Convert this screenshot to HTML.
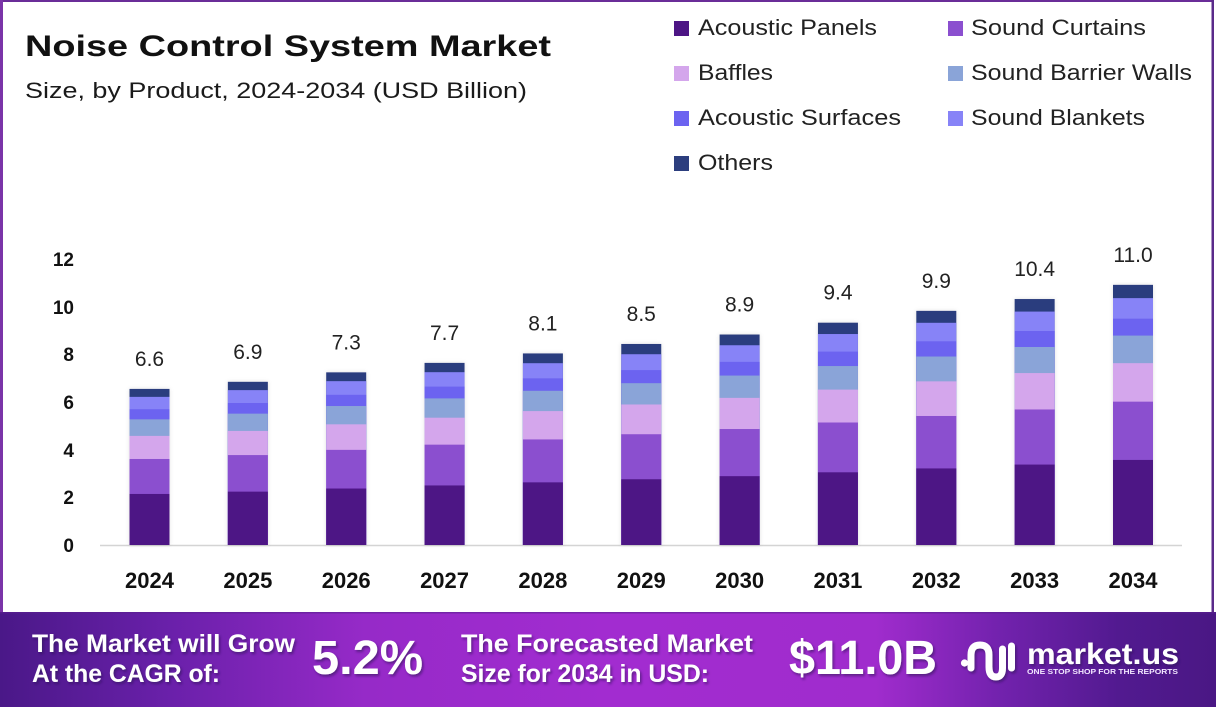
<!DOCTYPE html>
<html>
<head>
<meta charset="utf-8">
<style>
  html,body{margin:0;padding:0;background:#fff;}
  svg{display:block;}
  text{font-family:"Liberation Sans",Arial,sans-serif;}
</style>
</head>
<body>
<svg width="1216" height="711" viewBox="0 0 1216 711" xmlns="http://www.w3.org/2000/svg">
  <defs>
    <linearGradient id="band" x1="0" y1="0" x2="1" y2="0">
      <stop offset="0" stop-color="#4a1888"/>
      <stop offset="0.14" stop-color="#6a20aa"/>
      <stop offset="0.3" stop-color="#962ac8"/>
      <stop offset="0.5" stop-color="#a22cd0"/>
      <stop offset="0.72" stop-color="#a02ccd"/>
      <stop offset="0.82" stop-color="#7322ae"/>
      <stop offset="0.92" stop-color="#521a90"/>
      <stop offset="1" stop-color="#4a1784"/>
    </linearGradient>
    <filter id="ts" x="-10%" y="-10%" width="130%" height="140%">
      <feDropShadow dx="1.5" dy="2" stdDeviation="1.2" flood-color="#2a0a50" flood-opacity="0.55"/>
    </filter>
    <filter id="bs" x="-30%" y="-10%" width="160%" height="120%">
      <feDropShadow dx="0" dy="0" stdDeviation="2" flood-color="#000" flood-opacity="0.12"/>
    </filter>
  </defs>

  <rect x="0" y="0" width="1216" height="711" fill="#ffffff"/>

  <!-- frame -->
  <rect x="0" y="0" width="1214" height="2" fill="#6a2d98"/>
  <rect x="0" y="0" width="3" height="612" fill="#7a34a8"/>
  <rect x="1211.5" y="0" width="2.5" height="612" fill="#5a2a8a"/>

  <!-- title -->
  <text x="25" y="56" font-size="30" font-weight="bold" fill="#111" textLength="526" lengthAdjust="spacingAndGlyphs">Noise Control System Market</text>
  <text x="25" y="98" font-size="22" fill="#1a1a1a" textLength="502" lengthAdjust="spacingAndGlyphs">Size, by Product, 2024-2034 (USD Billion)</text>

  <!-- legend -->
  <g font-size="22" fill="#222">
    <rect x="674" y="21" width="15" height="15" fill="#4d1585"/>
    <text x="698" y="35" textLength="179" lengthAdjust="spacingAndGlyphs">Acoustic Panels</text>
    <rect x="948" y="21" width="15" height="15" fill="#8b4fcf"/>
    <text x="971" y="35" textLength="175" lengthAdjust="spacingAndGlyphs">Sound Curtains</text>

    <rect x="674" y="66" width="15" height="15" fill="#d4a6ec"/>
    <text x="698" y="80" textLength="75" lengthAdjust="spacingAndGlyphs">Baffles</text>
    <rect x="948" y="66" width="15" height="15" fill="#8aa4d8"/>
    <text x="971" y="80" textLength="221" lengthAdjust="spacingAndGlyphs">Sound Barrier Walls</text>

    <rect x="674" y="111" width="15" height="15" fill="#6c63f0"/>
    <text x="698" y="125" textLength="203" lengthAdjust="spacingAndGlyphs">Acoustic Surfaces</text>
    <rect x="948" y="111" width="15" height="15" fill="#8783f7"/>
    <text x="971" y="125" textLength="174" lengthAdjust="spacingAndGlyphs">Sound Blankets</text>

    <rect x="674" y="156" width="15" height="15" fill="#2c3e7e"/>
    <text x="698" y="170" textLength="75" lengthAdjust="spacingAndGlyphs">Others</text>
  </g>

  <!-- y axis labels -->
  <g font-size="19" font-weight="bold" fill="#111" text-anchor="end">
    <text x="74" y="266">12</text>
    <text x="74" y="314">10</text>
    <text x="74" y="361">8</text>
    <text x="74" y="409">6</text>
    <text x="74" y="457">4</text>
    <text x="74" y="504">2</text>
    <text x="74" y="552">0</text>
  </g>

  <!-- baseline -->
  <line x1="100" y1="545.5" x2="1182" y2="545.5" stroke="#d4d4d4" stroke-width="1.5"/>

  <!-- bars (stacked: drawn from full height down) -->
  <g filter="url(#bs)">
    <g transform="translate(129.5,545) scale(1,-1)">
      <rect x="0" y="0" width="40" height="156.09" fill="#2c3e7e"/>
      <rect x="0" y="0" width="40" height="148.13" fill="#8783f7"/>
      <rect x="0" y="0" width="40" height="135.80" fill="#6c63f0"/>
      <rect x="0" y="0" width="40" height="125.65" fill="#8aa4d8"/>
      <rect x="0" y="0" width="40" height="109.11" fill="#d4a6ec"/>
      <rect x="0" y="0" width="40" height="86.01" fill="#8b4fcf"/>
      <rect x="0" y="0" width="40" height="51.04" fill="#4d1585"/>
    </g>
    <g transform="translate(227.85,545) scale(1,-1)">
      <rect x="0" y="0" width="40" height="163.19" fill="#2c3e7e"/>
      <rect x="0" y="0" width="40" height="154.87" fill="#8783f7"/>
      <rect x="0" y="0" width="40" height="141.97" fill="#6c63f0"/>
      <rect x="0" y="0" width="40" height="131.37" fill="#8aa4d8"/>
      <rect x="0" y="0" width="40" height="114.07" fill="#d4a6ec"/>
      <rect x="0" y="0" width="40" height="89.92" fill="#8b4fcf"/>
      <rect x="0" y="0" width="40" height="53.36" fill="#4d1585"/>
    </g>
    <g transform="translate(326.2,545) scale(1,-1)">
      <rect x="0" y="0" width="40" height="172.65" fill="#2c3e7e"/>
      <rect x="0" y="0" width="40" height="163.85" fill="#8783f7"/>
      <rect x="0" y="0" width="40" height="150.21" fill="#6c63f0"/>
      <rect x="0" y="0" width="40" height="138.98" fill="#8aa4d8"/>
      <rect x="0" y="0" width="40" height="120.68" fill="#d4a6ec"/>
      <rect x="0" y="0" width="40" height="95.13" fill="#8b4fcf"/>
      <rect x="0" y="0" width="40" height="56.46" fill="#4d1585"/>
    </g>
    <g transform="translate(424.55,545) scale(1,-1)">
      <rect x="0" y="0" width="40" height="182.11" fill="#2c3e7e"/>
      <rect x="0" y="0" width="40" height="172.82" fill="#8783f7"/>
      <rect x="0" y="0" width="40" height="158.43" fill="#6c63f0"/>
      <rect x="0" y="0" width="40" height="146.60" fill="#8aa4d8"/>
      <rect x="0" y="0" width="40" height="127.29" fill="#d4a6ec"/>
      <rect x="0" y="0" width="40" height="100.34" fill="#8b4fcf"/>
      <rect x="0" y="0" width="40" height="59.55" fill="#4d1585"/>
    </g>
    <g transform="translate(522.9,545) scale(1,-1)">
      <rect x="0" y="0" width="40" height="191.57" fill="#2c3e7e"/>
      <rect x="0" y="0" width="40" height="181.80" fill="#8783f7"/>
      <rect x="0" y="0" width="40" height="166.67" fill="#6c63f0"/>
      <rect x="0" y="0" width="40" height="154.21" fill="#8aa4d8"/>
      <rect x="0" y="0" width="40" height="133.91" fill="#d4a6ec"/>
      <rect x="0" y="0" width="40" height="105.56" fill="#8b4fcf"/>
      <rect x="0" y="0" width="40" height="62.64" fill="#4d1585"/>
    </g>
    <g transform="translate(621.25,545) scale(1,-1)">
      <rect x="0" y="0" width="40" height="201.03" fill="#2c3e7e"/>
      <rect x="0" y="0" width="40" height="190.78" fill="#8783f7"/>
      <rect x="0" y="0" width="40" height="174.90" fill="#6c63f0"/>
      <rect x="0" y="0" width="40" height="161.83" fill="#8aa4d8"/>
      <rect x="0" y="0" width="40" height="140.52" fill="#d4a6ec"/>
      <rect x="0" y="0" width="40" height="110.77" fill="#8b4fcf"/>
      <rect x="0" y="0" width="40" height="65.74" fill="#4d1585"/>
    </g>
    <g transform="translate(719.6,545) scale(1,-1)">
      <rect x="0" y="0" width="40" height="210.49" fill="#2c3e7e"/>
      <rect x="0" y="0" width="40" height="199.75" fill="#8783f7"/>
      <rect x="0" y="0" width="40" height="183.13" fill="#6c63f0"/>
      <rect x="0" y="0" width="40" height="169.44" fill="#8aa4d8"/>
      <rect x="0" y="0" width="40" height="147.13" fill="#d4a6ec"/>
      <rect x="0" y="0" width="40" height="115.98" fill="#8b4fcf"/>
      <rect x="0" y="0" width="40" height="68.83" fill="#4d1585"/>
    </g>
    <g transform="translate(817.95,545) scale(1,-1)">
      <rect x="0" y="0" width="40" height="222.31" fill="#2c3e7e"/>
      <rect x="0" y="0" width="40" height="210.97" fill="#8783f7"/>
      <rect x="0" y="0" width="40" height="193.41" fill="#6c63f0"/>
      <rect x="0" y="0" width="40" height="178.96" fill="#8aa4d8"/>
      <rect x="0" y="0" width="40" height="155.39" fill="#d4a6ec"/>
      <rect x="0" y="0" width="40" height="122.49" fill="#8b4fcf"/>
      <rect x="0" y="0" width="40" height="72.70" fill="#4d1585"/>
    </g>
    <g transform="translate(916.3,545) scale(1,-1)">
      <rect x="0" y="0" width="40" height="234.14" fill="#2c3e7e"/>
      <rect x="0" y="0" width="40" height="222.20" fill="#8783f7"/>
      <rect x="0" y="0" width="40" height="203.70" fill="#6c63f0"/>
      <rect x="0" y="0" width="40" height="188.48" fill="#8aa4d8"/>
      <rect x="0" y="0" width="40" height="163.66" fill="#d4a6ec"/>
      <rect x="0" y="0" width="40" height="129.01" fill="#8b4fcf"/>
      <rect x="0" y="0" width="40" height="76.56" fill="#4d1585"/>
    </g>
    <g transform="translate(1014.65,545) scale(1,-1)">
      <rect x="0" y="0" width="40" height="245.96" fill="#2c3e7e"/>
      <rect x="0" y="0" width="40" height="233.42" fill="#8783f7"/>
      <rect x="0" y="0" width="40" height="213.99" fill="#6c63f0"/>
      <rect x="0" y="0" width="40" height="198.00" fill="#8aa4d8"/>
      <rect x="0" y="0" width="40" height="171.93" fill="#d4a6ec"/>
      <rect x="0" y="0" width="40" height="135.52" fill="#8b4fcf"/>
      <rect x="0" y="0" width="40" height="80.43" fill="#4d1585"/>
    </g>
    <g transform="translate(1113,545) scale(1,-1)">
      <rect x="0" y="0" width="40" height="260.15" fill="#2c3e7e"/>
      <rect x="0" y="0" width="40" height="246.88" fill="#8783f7"/>
      <rect x="0" y="0" width="40" height="226.33" fill="#6c63f0"/>
      <rect x="0" y="0" width="40" height="209.42" fill="#8aa4d8"/>
      <rect x="0" y="0" width="40" height="181.84" fill="#d4a6ec"/>
      <rect x="0" y="0" width="40" height="143.34" fill="#8b4fcf"/>
      <rect x="0" y="0" width="40" height="85.07" fill="#4d1585"/>
    </g>
  </g>

  <!-- value labels -->
  <g font-size="21" fill="#222" text-anchor="middle">
    <text x="149.5" y="366">6.6</text>
    <text x="247.85" y="359">6.9</text>
    <text x="346.2" y="349.5">7.3</text>
    <text x="444.55" y="340">7.7</text>
    <text x="542.9" y="330.5">8.1</text>
    <text x="641.25" y="321">8.5</text>
    <text x="739.6" y="311.5">8.9</text>
    <text x="837.95" y="299.7">9.4</text>
    <text x="936.3" y="288">9.9</text>
    <text x="1034.65" y="276">10.4</text>
    <text x="1133" y="262">11.0</text>
  </g>

  <!-- year labels -->
  <g font-size="22" font-weight="bold" fill="#111" text-anchor="middle">
    <text x="149.5" y="588">2024</text>
    <text x="247.85" y="588">2025</text>
    <text x="346.2" y="588">2026</text>
    <text x="444.55" y="588">2027</text>
    <text x="542.9" y="588">2028</text>
    <text x="641.25" y="588">2029</text>
    <text x="739.6" y="588">2030</text>
    <text x="837.95" y="588">2031</text>
    <text x="936.3" y="588">2032</text>
    <text x="1034.65" y="588">2033</text>
    <text x="1133" y="588">2034</text>
  </g>

  <!-- footer band -->
  <rect x="0" y="612" width="1216" height="95" fill="url(#band)"/>
  <rect x="0" y="612" width="1216" height="1.5" fill="#5a2090" opacity="0.6"/>

  <g fill="#ffffff" font-weight="bold" filter="url(#ts)">
    <text x="32" y="652" font-size="25" textLength="263" lengthAdjust="spacingAndGlyphs">The Market will Grow</text>
    <text x="32" y="682" font-size="25" textLength="188" lengthAdjust="spacingAndGlyphs">At the CAGR of:</text>
    <text x="312" y="674" font-size="48" textLength="111" lengthAdjust="spacingAndGlyphs">5.2%</text>
    <text x="461" y="652" font-size="25" textLength="292" lengthAdjust="spacingAndGlyphs">The Forecasted Market</text>
    <text x="461" y="682" font-size="25" textLength="248" lengthAdjust="spacingAndGlyphs">Size for 2034 in USD:</text>
    <text x="789" y="674" font-size="48" textLength="148" lengthAdjust="spacingAndGlyphs">$11.0B</text>
  </g>

  <!-- logo -->
  <g filter="url(#ts)">
    <circle cx="964.5" cy="663" r="3.6" fill="#fff"/>
    <path d="M 971 668 V 655 Q 971 645 980 645 Q 989 645 989 655 V 667 Q 989 677 996 677 Q 1002.5 677 1002.5 668 V 649" fill="none" stroke="#fff" stroke-width="7" stroke-linecap="round"/>
    <line x1="1011.5" y1="646" x2="1011.5" y2="668" stroke="#fff" stroke-width="7" stroke-linecap="round"/>
    <text x="1027" y="664" font-size="30" font-weight="bold" fill="#fff" textLength="152" lengthAdjust="spacingAndGlyphs">market.us</text>
  </g>
  <text x="1027" y="674" font-size="7" font-weight="bold" fill="#f2e6ff" textLength="151" lengthAdjust="spacingAndGlyphs">ONE STOP SHOP FOR THE REPORTS</text>
</svg>
</body>
</html>
